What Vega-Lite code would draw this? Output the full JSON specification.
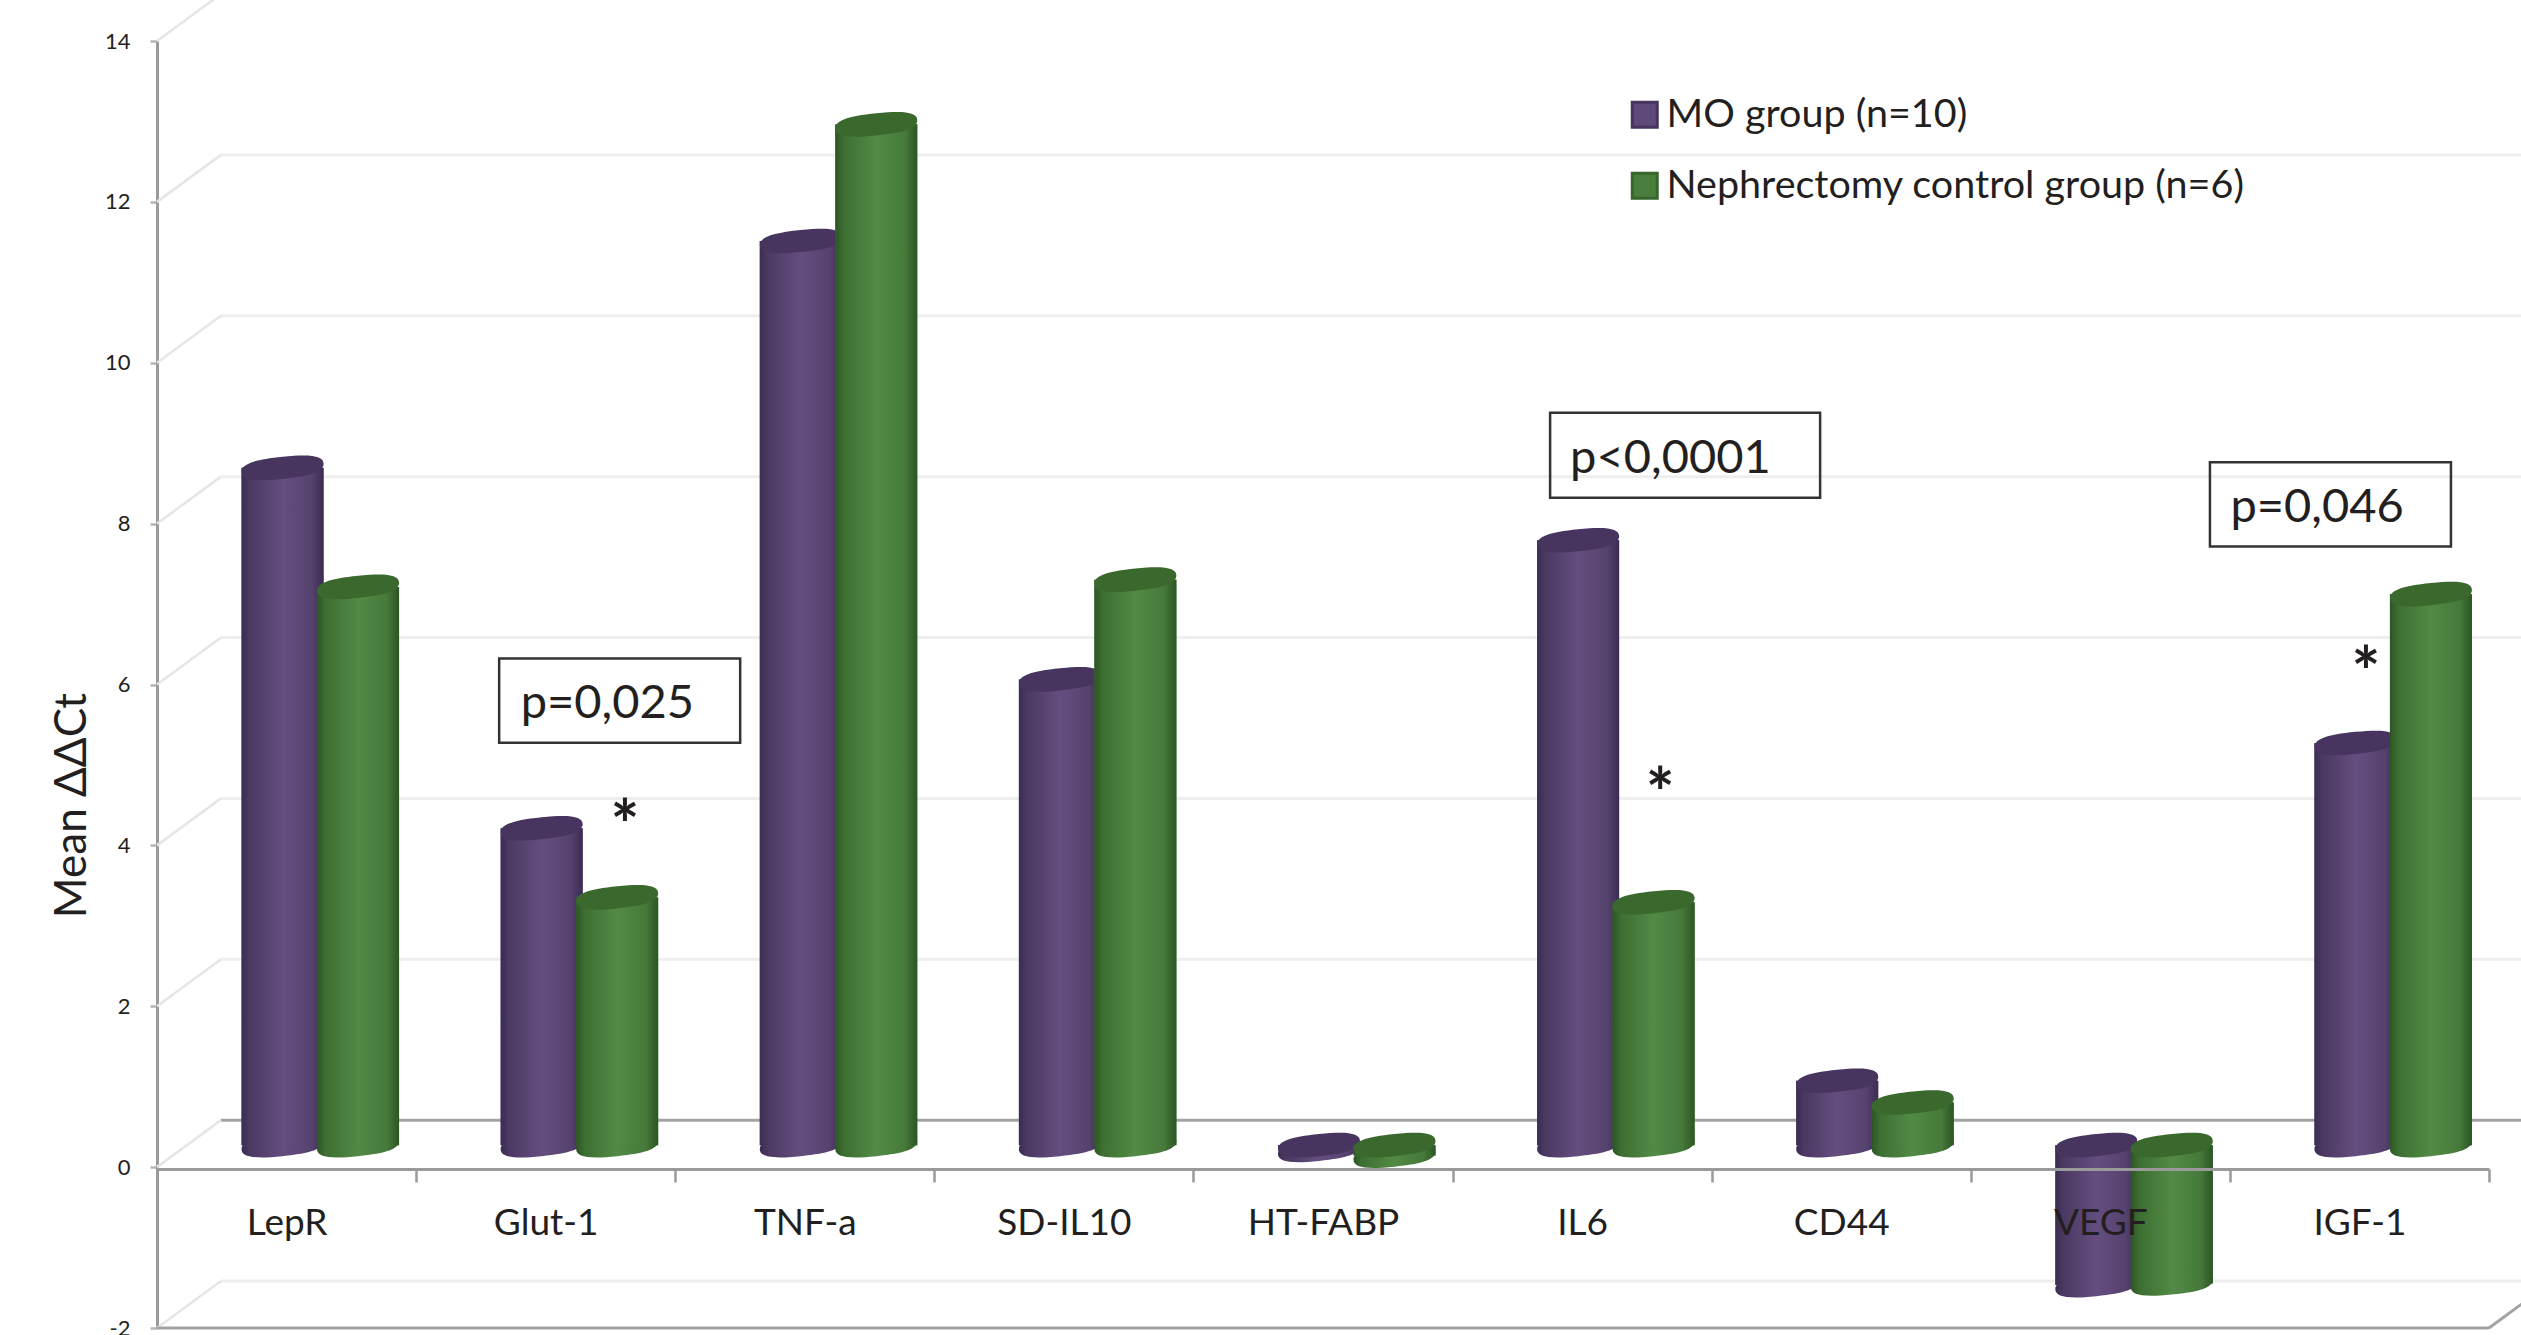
{
  "$schema": "https://vega.github.io/schema/vega-lite/v6.json",
  "width": 2332,
  "height": 1287,
  "autosize": {"type": "none"},
  "padding": {"left": 157, "top": 41, "right": 32, "bottom": 7},
  "background": "#ffffff",
  "config": {"view": {"stroke": null}, "font": "Lato"},
  "datasets": {
    "expression": [
      {"gene": "LepR", "group": "MO group (n=10)", "value": 8.42},
      {"gene": "LepR", "group": "Nephrectomy control group (n=6)", "value": 6.94},
      {"gene": "Glut-1", "group": "MO group (n=10)", "value": 3.94},
      {"gene": "Glut-1", "group": "Nephrectomy control group (n=6)", "value": 3.08},
      {"gene": "TNF-a", "group": "MO group (n=10)", "value": 11.24},
      {"gene": "TNF-a", "group": "Nephrectomy control group (n=6)", "value": 12.69},
      {"gene": "SD-IL10", "group": "MO group (n=10)", "value": 5.79},
      {"gene": "SD-IL10", "group": "Nephrectomy control group (n=6)", "value": 7.03},
      {"gene": "HT-FABP", "group": "MO group (n=10)", "value": -0.06},
      {"gene": "HT-FABP", "group": "Nephrectomy control group (n=6)", "value": -0.13},
      {"gene": "IL6", "group": "MO group (n=10)", "value": 7.52},
      {"gene": "IL6", "group": "Nephrectomy control group (n=6)", "value": 3.02},
      {"gene": "CD44", "group": "MO group (n=10)", "value": 0.8},
      {"gene": "CD44", "group": "Nephrectomy control group (n=6)", "value": 0.53},
      {"gene": "VEGF", "group": "MO group (n=10)", "value": -1.74},
      {"gene": "VEGF", "group": "Nephrectomy control group (n=6)", "value": -1.72},
      {"gene": "IGF-1", "group": "MO group (n=10)", "value": 5.0},
      {"gene": "IGF-1", "group": "Nephrectomy control group (n=6)", "value": 6.85}
    ],
    "walls": [
      {"value": -2}, {"value": 0}, {"value": 2}, {"value": 4}, {"value": 6},
      {"value": 8}, {"value": 10}, {"value": 12}, {"value": 14}
    ]
  },
  "encoding": {
    "x": {
      "field": "gene",
      "type": "nominal",
      "sort": null,
      "title": null,
      "scale": {
        "domain": ["LepR", "Glut-1", "TNF-a", "SD-IL10", "HT-FABP", "IL6", "CD44", "VEGF", "IGF-1"],
        "paddingInner": 0,
        "paddingOuter": 0
      },
      "axis": {
        "orient": "bottom",
        "offset": -159,
        "tickBand": "extent",
        "labelAngle": 0,
        "labelFont": "Lato",
        "labelFontSize": 37,
        "labelColor": "#231f20",
        "labelPadding": 23,
        "domainColor": "#9a9a9a",
        "domainWidth": 3,
        "tickColor": "#9a9a9a",
        "tickWidth": 2.5,
        "tickSize": 13,
        "zindex": 1
      }
    },
    "y": {
      "field": "value",
      "type": "quantitative",
      "title": "Mean ΔΔCt",
      "scale": {"domain": [-2, 14], "nice": false, "zero": false},
      "axis": {
        "values": [-2, 0, 2, 4, 6, 8, 10, 12, 14],
        "grid": false,
        "labelExpr": "toString(datum.value)",
        "labelFont": "Lato",
        "labelFontSize": 22,
        "labelColor": "#231f20",
        "labelPadding": 20,
        "domainColor": "#9a9a9a",
        "domainWidth": 3,
        "tickColor": "#b5b5b5",
        "tickWidth": 2.5,
        "tickSize": 7,
        "titleFont": "Lato",
        "titleFontSize": 44,
        "titleFontWeight": "normal",
        "titleColor": "#231f20",
        "titleX": -63,
        "titleY": 764
      }
    }
  },
  "layer": [
    {
      "data": {"name": "walls"},
      "transform": [{"filter": "datum.value !== 0"}],
      "mark": {"type": "rule", "color": "#eeeeee", "strokeWidth": 3, "xOffset": 64, "x2Offset": 64, "yOffset": -47, "y2Offset": -47},
      "encoding": {
        "x": {"datum": "LepR", "bandPosition": 0},
        "x2": {"datum": "IGF-1", "bandPosition": 1},
        "y": {"field": "value", "type": "quantitative"},
        "y2": {"field": "value"}
      }
    },
    {
      "data": {"name": "walls"},
      "transform": [{"filter": "datum.value === 0"}],
      "mark": {"type": "rule", "color": "#a3a3a3", "strokeWidth": 3, "xOffset": 64, "x2Offset": 64, "yOffset": -47, "y2Offset": -47},
      "encoding": {
        "x": {"datum": "LepR", "bandPosition": 0},
        "x2": {"datum": "IGF-1", "bandPosition": 1},
        "y": {"field": "value", "type": "quantitative"},
        "y2": {"field": "value"}
      }
    },
    {
      "data": {"name": "walls"},
      "mark": {"type": "rule", "color": "#e6e6e6", "strokeWidth": 2.5, "x2Offset": 64, "y2Offset": -47},
      "encoding": {
        "x": {"datum": "LepR", "bandPosition": 0},
        "x2": {"datum": "LepR", "bandPosition": 0},
        "y": {"field": "value", "type": "quantitative"},
        "y2": {"field": "value"}
      }
    },
    {
      "data": {"name": "walls"},
      "transform": [{"filter": "datum.value === -2"}],
      "mark": {"type": "rule", "color": "#a3a3a3", "strokeWidth": 3},
      "encoding": {
        "x": {"datum": "LepR", "bandPosition": 0},
        "x2": {"datum": "IGF-1", "bandPosition": 1},
        "y": {"field": "value", "type": "quantitative"},
        "y2": {"field": "value"}
      }
    },
    {
      "data": {"name": "walls"},
      "transform": [{"filter": "datum.value === -2"}],
      "mark": {"type": "rule", "color": "#a3a3a3", "strokeWidth": 3, "x2Offset": 64, "y2Offset": -47},
      "encoding": {
        "x": {"datum": "IGF-1", "bandPosition": 1},
        "x2": {"datum": "IGF-1", "bandPosition": 1},
        "y": {"field": "value", "type": "quantitative"},
        "y2": {"field": "value"}
      }
    },

    {
      "data": {"name": "expression"},
      "transform": [{"filter": "datum.group === 'MO group (n=10)' && datum.value >= 0"}],
      "mark": {"type": "point", "filled": true, "opacity": 1, "strokeWidth": 0, "size": 6724, "xOffset": -4, "yOffset": -22, "shape": "M-1,0.10 C-1,-0.089,-0.7,-0.20,0,-0.27 C0.7,-0.34,1,-0.289,1,-0.10 C1,0.089,0.7,0.20,0,0.27 C-0.7,0.34,-1,0.289,-1,0.10 Z",
        "color": {"gradient": "linear", "x1": 0, "y1": 0, "x2": 1, "y2": 0, "stops": [{"offset": 0, "color": "#3b2c53"}, {"offset": 0.1, "color": "#4a3961"}, {"offset": 0.5, "color": "#644e80"}, {"offset": 0.85, "color": "#56426e"}, {"offset": 1, "color": "#3b2c53"}]}},
      "encoding": {"y": {"datum": 0}}
    },
    {
      "data": {"name": "expression"},
      "transform": [{"filter": "datum.group === 'MO group (n=10)' && datum.value < 0"}],
      "mark": {"type": "point", "filled": true, "opacity": 1, "strokeWidth": 0, "size": 6724, "xOffset": -4, "yOffset": -22, "shape": "M-1,0.10 C-1,-0.089,-0.7,-0.20,0,-0.27 C0.7,-0.34,1,-0.289,1,-0.10 C1,0.089,0.7,0.20,0,0.27 C-0.7,0.34,-1,0.289,-1,0.10 Z",
        "color": {"gradient": "linear", "x1": 0, "y1": 0, "x2": 1, "y2": 0, "stops": [{"offset": 0, "color": "#3b2c53"}, {"offset": 0.1, "color": "#4a3961"}, {"offset": 0.5, "color": "#644e80"}, {"offset": 0.85, "color": "#56426e"}, {"offset": 1, "color": "#3b2c53"}]}}
    },
    {
      "data": {"name": "expression"},
      "transform": [{"filter": "datum.group === 'MO group (n=10)'"}],
      "mark": {"type": "bar", "width": 82, "xOffset": -4, "yOffset": -22, "y2Offset": -22, "strokeWidth": 0},
      "encoding": {
        "fill": {
          "field": "group",
          "type": "nominal",
          "scale": {"domain": ["MO group (n=10)", "Nephrectomy control group (n=6)"], "range": ["#5f497a", "#4a7e3c"]},
          "legend": {
            "title": null,
            "orient": "none",
            "legendX": 1468,
            "legendY": 54,
            "symbolType": "square",
            "symbolSize": 625,
            "symbolStrokeWidth": 3,
            "labelFont": "Lato",
            "labelFontSize": 39.5,
            "labelColor": "#231f20",
            "labelOffset": 2,
            "rowPadding": 30,
            "labelLimit": 900,
            "symbolOpacity": 1
          }
        },
        "stroke": {
          "field": "group",
          "type": "nominal",
          "scale": {"domain": ["MO group (n=10)", "Nephrectomy control group (n=6)"], "range": ["#46345f", "#38662c"]},
          "legend": null
        }
      }
    },
    {
      "data": {"name": "expression"},
      "transform": [{"filter": "datum.group === 'MO group (n=10)'"}],
      "mark": {"type": "bar", "width": 82, "xOffset": -4, "yOffset": -22, "y2Offset": -22,
        "color": {"gradient": "linear", "x1": 0, "y1": 0, "x2": 1, "y2": 0, "stops": [{"offset": 0, "color": "#3b2c53"}, {"offset": 0.1, "color": "#4a3961"}, {"offset": 0.5, "color": "#644e80"}, {"offset": 0.85, "color": "#56426e"}, {"offset": 1, "color": "#3b2c53"}]}}
    },
    {
      "data": {"name": "expression"},
      "transform": [{"filter": "datum.group === 'MO group (n=10)' && datum.value >= 0"}],
      "mark": {"type": "point", "filled": true, "opacity": 1, "strokeWidth": 0, "size": 6724, "xOffset": -4, "yOffset": -22, "color": "#47355f", "shape": "M-1,0.10 C-1,-0.089,-0.7,-0.20,0,-0.27 C0.7,-0.34,1,-0.289,1,-0.10 C1,0.089,0.7,0.20,0,0.27 C-0.7,0.34,-1,0.289,-1,0.10 Z"}
    },
    {
      "data": {"name": "expression"},
      "transform": [{"filter": "datum.group === 'MO group (n=10)' && datum.value < 0"}],
      "mark": {"type": "point", "filled": true, "opacity": 1, "strokeWidth": 0, "size": 6724, "xOffset": -4, "yOffset": -22, "color": "#47355f", "shape": "M-1,0.10 C-1,-0.089,-0.7,-0.20,0,-0.27 C0.7,-0.34,1,-0.289,1,-0.10 C1,0.089,0.7,0.20,0,0.27 C-0.7,0.34,-1,0.289,-1,0.10 Z"},
      "encoding": {"y": {"datum": 0}}
    },

    {
      "data": {"name": "expression"},
      "transform": [{"filter": "datum.group !== 'MO group (n=10)' && datum.value >= 0"}],
      "mark": {"type": "point", "filled": true, "opacity": 1, "strokeWidth": 0, "size": 6724, "xOffset": 71.5, "yOffset": -22, "shape": "M-1,0.10 C-1,-0.089,-0.7,-0.20,0,-0.27 C0.7,-0.34,1,-0.289,1,-0.10 C1,0.089,0.7,0.20,0,0.27 C-0.7,0.34,-1,0.289,-1,0.10 Z",
        "color": {"gradient": "linear", "x1": 0, "y1": 0, "x2": 1, "y2": 0, "stops": [{"offset": 0, "color": "#2c5523"}, {"offset": 0.1, "color": "#3d6e32"}, {"offset": 0.5, "color": "#528b45"}, {"offset": 0.85, "color": "#46793a"}, {"offset": 1, "color": "#2c5523"}]}},
      "encoding": {"y": {"datum": 0}}
    },
    {
      "data": {"name": "expression"},
      "transform": [{"filter": "datum.group !== 'MO group (n=10)' && datum.value < 0"}],
      "mark": {"type": "point", "filled": true, "opacity": 1, "strokeWidth": 0, "size": 6724, "xOffset": 71.5, "yOffset": -22, "shape": "M-1,0.10 C-1,-0.089,-0.7,-0.20,0,-0.27 C0.7,-0.34,1,-0.289,1,-0.10 C1,0.089,0.7,0.20,0,0.27 C-0.7,0.34,-1,0.289,-1,0.10 Z",
        "color": {"gradient": "linear", "x1": 0, "y1": 0, "x2": 1, "y2": 0, "stops": [{"offset": 0, "color": "#2c5523"}, {"offset": 0.1, "color": "#3d6e32"}, {"offset": 0.5, "color": "#528b45"}, {"offset": 0.85, "color": "#46793a"}, {"offset": 1, "color": "#2c5523"}]}}
    },
    {
      "data": {"name": "expression"},
      "transform": [{"filter": "datum.group !== 'MO group (n=10)'"}],
      "mark": {"type": "bar", "width": 82, "xOffset": 71.5, "yOffset": -22, "y2Offset": -22, "strokeWidth": 0},
      "encoding": {
        "fill": {"field": "group", "type": "nominal"},
        "stroke": {"field": "group", "type": "nominal", "legend": null}
      }
    },
    {
      "data": {"name": "expression"},
      "transform": [{"filter": "datum.group !== 'MO group (n=10)'"}],
      "mark": {"type": "bar", "width": 82, "xOffset": 71.5, "yOffset": -22, "y2Offset": -22,
        "color": {"gradient": "linear", "x1": 0, "y1": 0, "x2": 1, "y2": 0, "stops": [{"offset": 0, "color": "#2c5523"}, {"offset": 0.1, "color": "#3d6e32"}, {"offset": 0.5, "color": "#528b45"}, {"offset": 0.85, "color": "#46793a"}, {"offset": 1, "color": "#2c5523"}]}}
    },
    {
      "data": {"name": "expression"},
      "transform": [{"filter": "datum.group !== 'MO group (n=10)' && datum.value >= 0"}],
      "mark": {"type": "point", "filled": true, "opacity": 1, "strokeWidth": 0, "size": 6724, "xOffset": 71.5, "yOffset": -22, "color": "#3a682d", "shape": "M-1,0.10 C-1,-0.089,-0.7,-0.20,0,-0.27 C0.7,-0.34,1,-0.289,1,-0.10 C1,0.089,0.7,0.20,0,0.27 C-0.7,0.34,-1,0.289,-1,0.10 Z"}
    },
    {
      "data": {"name": "expression"},
      "transform": [{"filter": "datum.group !== 'MO group (n=10)' && datum.value < 0"}],
      "mark": {"type": "point", "filled": true, "opacity": 1, "strokeWidth": 0, "size": 6724, "xOffset": 71.5, "yOffset": -22, "color": "#3a682d", "shape": "M-1,0.10 C-1,-0.089,-0.7,-0.20,0,-0.27 C0.7,-0.34,1,-0.289,1,-0.10 C1,0.089,0.7,0.20,0,0.27 C-0.7,0.34,-1,0.289,-1,0.10 Z"},
      "encoding": {"y": {"datum": 0}}
    },

    {
      "data": {"values": [{"gene": "Glut-1", "value": 5.8, "note": "p=0,025"}]},
      "mark": {"type": "point", "filled": false, "opacity": 1, "color": "#333333", "strokeWidth": 2.5, "size": 58081, "xOffset": 74, "shape": "M-1,-0.349 H1 V0.349 H-1 Z"}
    },
    {
      "data": {"values": [{"gene": "IL6", "value": 8.85, "note": "p<0,0001"}]},
      "mark": {"type": "point", "filled": false, "opacity": 1, "color": "#333333", "strokeWidth": 2.5, "size": 72900, "xOffset": 103, "shape": "M-1,-0.315 H1 V0.315 H-1 Z"}
    },
    {
      "data": {"values": [{"gene": "IGF-1", "value": 8.24, "note": "p=0,046"}]},
      "mark": {"type": "point", "filled": false, "opacity": 1, "color": "#333333", "strokeWidth": 2.5, "size": 58081, "xOffset": -29, "shape": "M-1,-0.349 H1 V0.349 H-1 Z"}
    },
    {
      "data": {"values": [{"gene": "Glut-1", "value": 5.8, "note": "p=0,025"}]},
      "mark": {"type": "text", "align": "left", "baseline": "alphabetic", "font": "Lato", "fontSize": 47, "color": "#231f20", "xOffset": -25, "yOffset": 17.5},
      "encoding": {"text": {"field": "note"}}
    },
    {
      "data": {"values": [{"gene": "IL6", "value": 8.85, "note": "p<0,0001"}]},
      "mark": {"type": "text", "align": "left", "baseline": "alphabetic", "font": "Lato", "fontSize": 47, "color": "#231f20", "xOffset": -12, "yOffset": 17.5},
      "encoding": {"text": {"field": "note"}}
    },
    {
      "data": {"values": [{"gene": "IGF-1", "value": 8.24, "note": "p=0,046"}]},
      "mark": {"type": "text", "align": "left", "baseline": "alphabetic", "font": "Lato", "fontSize": 47, "color": "#231f20", "xOffset": -129, "yOffset": 17.5},
      "encoding": {"text": {"field": "note"}}
    },
    {
      "data": {"values": [{"gene": "Glut-1", "value": 4.44, "star": "*"}]},
      "mark": {"type": "text", "align": "center", "baseline": "alphabetic", "font": "Lato", "fontSize": 68, "fontWeight": "bold", "color": "#231f20", "xOffset": 79.3, "yOffset": 40},
      "encoding": {"text": {"field": "star"}}
    },
    {
      "data": {"values": [{"gene": "IL6", "value": 4.84, "star": "*"}]},
      "mark": {"type": "text", "align": "center", "baseline": "alphabetic", "font": "Lato", "fontSize": 68, "fontWeight": "bold", "color": "#231f20", "xOffset": 78, "yOffset": 40},
      "encoding": {"text": {"field": "star"}}
    },
    {
      "data": {"values": [{"gene": "IGF-1", "value": 6.34, "star": "*"}]},
      "mark": {"type": "text", "align": "center", "baseline": "alphabetic", "font": "Lato", "fontSize": 68, "fontWeight": "bold", "color": "#231f20", "xOffset": 6.6, "yOffset": 40},
      "encoding": {"text": {"field": "star"}}
    }
  ]
}
